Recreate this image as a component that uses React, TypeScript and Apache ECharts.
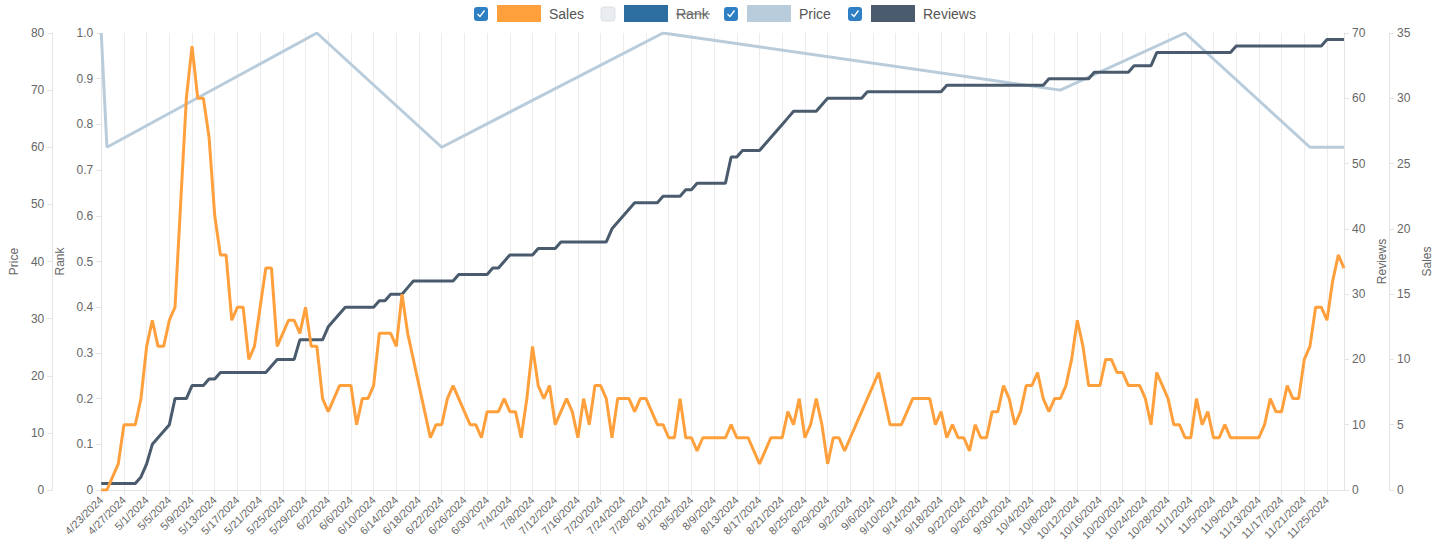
import React, { useEffect, useRef } from "react";
import * as echarts from "echarts";

// ---- data ----
const startDate = "4/23/2024";
const dayCount = 220;

const salesValues = [
  0, 0, 1, 2, 5, 5, 5, 7, 11, 13,
  11, 11, 13, 14, 22, 30, 34, 30, 30, 27,
  21, 18, 18, 13, 14, 14, 10, 11, 14, 17,
  17, 11, 12, 13, 13, 12, 14, 11, 11, 7,
  6, 7, 8, 8, 8, 5, 7, 7, 8, 12,
  12, 12, 11, 15, 12, 10, 8, 6, 4, 5,
  5, 7, 8, 7, 6, 5, 5, 4, 6, 6,
  6, 7, 6, 6, 4, 7, 11, 8, 7, 8,
  5, 6, 7, 6, 4, 7, 5, 8, 8, 7,
  4, 7, 7, 7, 6, 7, 7, 6, 5, 5,
  4, 4, 7, 4, 4, 3, 4, 4, 4, 4,
  4, 5, 4, 4, 4, 3, 2, 3, 4, 4,
  4, 6, 5, 7, 4, 5, 7, 5, 2, 4,
  4, 3, 4, 5, 6, 7, 8, 9, 7, 5,
  5, 5, 6, 7, 7, 7, 7, 5, 6, 4,
  5, 4, 4, 3, 5, 4, 4, 6, 6, 8,
  7, 5, 6, 8, 8, 9, 7, 6, 7, 7,
  8, 10, 13, 11, 8, 8, 8, 10, 10, 9,
  9, 8, 8, 8, 7, 5, 9, 8, 7, 5,
  5, 4, 4, 7, 5, 6, 4, 4, 5, 4,
  4, 4, 4, 4, 4, 5, 7, 6, 6, 8,
  7, 7, 10, 11, 14, 14, 13, 16, 18, 17,
];

const reviewValues = [
  1, 1, 1, 1, 1, 1, 1, 2, 4, 7,
  8, 9, 10, 14, 14, 14, 16, 16, 16, 17,
  17, 18, 18, 18, 18, 18, 18, 18, 18, 18,
  19, 20, 20, 20, 20, 23, 23, 23, 23, 23,
  25, 26, 27, 28, 28, 28, 28, 28, 28, 29,
  29, 30, 30, 30, 31, 32, 32, 32, 32, 32,
  32, 32, 32, 33, 33, 33, 33, 33, 33, 34,
  34, 35, 36, 36, 36, 36, 36, 37, 37, 37,
  37, 38, 38, 38, 38, 38, 38, 38, 38, 38,
  40, 41, 42, 43, 44, 44, 44, 44, 44, 45,
  45, 45, 45, 46, 46, 47, 47, 47, 47, 47,
  47, 51, 51, 52, 52, 52, 52, 53, 54, 55,
  56, 57, 58, 58, 58, 58, 58, 59, 60, 60,
  60, 60, 60, 60, 60, 61, 61, 61, 61, 61,
  61, 61, 61, 61, 61, 61, 61, 61, 61, 62,
  62, 62, 62, 62, 62, 62, 62, 62, 62, 62,
  62, 62, 62, 62, 62, 62, 62, 63, 63, 63,
  63, 63, 63, 63, 63, 64, 64, 64, 64, 64,
  64, 64, 65, 65, 65, 65, 67, 67, 67, 67,
  67, 67, 67, 67, 67, 67, 67, 67, 67, 67,
  68, 68, 68, 68, 68, 68, 68, 68, 68, 68,
  68, 68, 68, 68, 68, 68, 69, 69, 69, 69,
];

const priceDates = ["4/23/2024", "4/24/2024", "5/31/2024", "6/22/2024", "7/31/2024", "10/9/2024", "10/31/2024", "11/22/2024", "11/28/2024"];
const priceValues = [80, 60, 80, 60, 80, 70, 80, 60, 60];

const rankValues: number[] = [];

const priceTicks = { min: 0, max: 80, interval: 10 };
const rankTicks = { min: 0, max: 1, interval: 0.1 };
const reviewTicks = { min: 0, max: 70, interval: 10 };
const salesTicks = { min: 0, max: 35, interval: 5 };

const seriesNames = ["Sales", "Rank", "Price", "Reviews"];
const seriesColors = ["#ffa03c", "#2c6ea0", "#b9ccdb", "#4a5b6e"];
const legendChecked = [true, false, true, true];

function buildDates(start: string, n: number): string[] {
  const [m, d, y] = start.split("/").map(Number);
  const out: string[] = [];
  const dt = new Date(y, m - 1, d);
  for (let i = 0; i < n; i++) {
    out.push(`${dt.getMonth() + 1}/${dt.getDate()}/${dt.getFullYear()}`);
    dt.setDate(dt.getDate() + 1);
  }
  return out;
}

const FONT = "'Liberation Sans', Arial, Helvetica, sans-serif";

export default function App() {
  const ref = useRef<HTMLDivElement>(null);

  useEffect(() => {
    document.body.style.margin = "0";
    if (!ref.current) return;
    const chart = echarts.init(ref.current, undefined, { renderer: "svg" });
    const dates = buildDates(startDate, dayCount);

    const axisCommon = {
      type: "value",
      nameLocation: "middle",
      nameTextStyle: { color: "#666", fontSize: 12, fontFamily: FONT },
      axisLine: { show: true, lineStyle: { color: "#e4e4e4" } },
      axisTick: { show: true, length: 5, lineStyle: { color: "#e4e4e4" } },
      axisLabel: { color: "#666", fontSize: 12, fontFamily: FONT },
      splitLine: { show: false },
    };

    // custom legend (checkbox + swatch + label)
    const legendX = [474, 601, 724, 848];
    const graphics: any[] = [];
    seriesNames.forEach((name, i) => {
      const x = legendX[i];
      const on = legendChecked[i];
      graphics.push({
        type: "rect",
        shape: { x, y: 7, width: 14, height: 14, r: 3 },
        style: on ? { fill: "#2f7fc4" } : { fill: "#e9ecf0", stroke: "#dcdfe4", lineWidth: 1 },
        silent: true,
      });
      if (on) {
        graphics.push({
          type: "polyline",
          shape: { points: [[x + 3.5, y14(7)], [x + 6, 16.5], [x + 10.5, 10.5]] },
          style: { stroke: "#ffffff", lineWidth: 1.4, fill: null },
          silent: true,
        });
      }
      graphics.push({
        type: "rect",
        shape: { x: x + 23, y: 5, width: 44, height: 17 },
        style: { fill: seriesColors[i] },
        silent: true,
      });
      graphics.push({
        type: "text",
        x: x + 75,
        y: 13.5,
        style: {
          text: name,
          fill: on ? "#555" : "#666",
          fontSize: 14,
          fontFamily: FONT,
          verticalAlign: "middle",
          align: "left",
        },
        silent: true,
      });
      if (!on) {
        graphics.push({
          type: "line",
          shape: { x1: x + 75, y1: 14, x2: x + 109, y2: 14 },
          style: { stroke: "#666", lineWidth: 1 },
          silent: true,
        });
      }
    });
    function y14(v: number) { return v + 7; }

    chart.setOption({
      animation: false,
      textStyle: { fontFamily: FONT },
      color: seriesColors,
      legend: { show: false, data: seriesNames, selected: { Rank: false } },
      grid: { left: 97, right: 100, top: 33, bottom: 60, containLabel: false },
      graphic: graphics,
      xAxis: {
        type: "category",
        data: dates,
        boundaryGap: false,
        axisLine: { show: true, lineStyle: { color: "#e4e4e4" } },
        axisTick: { show: true, interval: 3, length: 5, lineStyle: { color: "#e4e4e4" } },
        axisLabel: { interval: 3, rotate: 45, color: "#666", fontSize: 11, fontFamily: FONT },
        splitLine: { show: true, interval: 3, lineStyle: { color: "#ececec" } },
      },
      yAxis: [
        { ...axisCommon, name: "Price", position: "left", offset: 49, nameGap: 30, ...priceTicks },
        {
          ...axisCommon, name: "Rank", position: "left", offset: 0, nameGap: 32, ...rankTicks,
          axisLabel: { ...axisCommon.axisLabel, formatter: (v: number) => (v === 0 ? "0" : v.toFixed(1)) },
        },
        { ...axisCommon, name: "Reviews", position: "right", offset: 0, nameGap: 28, ...reviewTicks },
        { ...axisCommon, name: "Sales", position: "right", offset: 45, nameGap: 30, ...salesTicks },
      ],
      series: [
        { name: "Sales", type: "line", yAxisIndex: 3, data: salesValues, showSymbol: false, lineStyle: { width: 3, color: seriesColors[0] }, z: 4 },
        { name: "Rank", type: "line", yAxisIndex: 1, data: rankValues, showSymbol: false, lineStyle: { width: 3, color: seriesColors[1] } },
        { name: "Price", type: "line", yAxisIndex: 0, data: priceDates.map((d, i) => [d, priceValues[i]]), showSymbol: false, lineStyle: { width: 3, color: seriesColors[2] }, z: 2 },
        { name: "Reviews", type: "line", yAxisIndex: 2, data: reviewValues, showSymbol: false, lineStyle: { width: 3, color: seriesColors[3] }, z: 3 },
      ],
    });
    return () => chart.dispose();
  }, []);

  return <div ref={ref} style={{ width: 1444, height: 550 }} />;
}
